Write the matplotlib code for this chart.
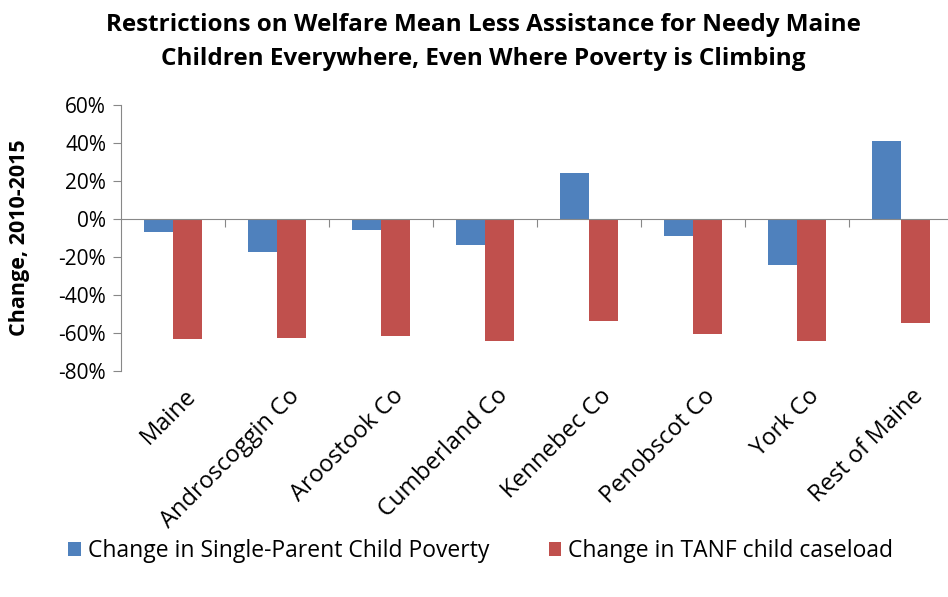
import numpy as np
import matplotlib
matplotlib.use("Agg")
import matplotlib.pyplot as plt
from matplotlib.ticker import FuncFormatter

places = ["Maine", "Androscoggin Co", "Aroostook Co", "Cumberland Co",
          "Kennebec Co", "Penobscot Co", "York Co", "Rest of Maine"]
poverty_change = [-7.0, -17.5, -6.0, -14.0, 24.0, -9.0, -24.5, 41.0]
tanf_change = [-63.5, -62.5, -61.5, -64.5, -54.0, -60.5, -64.5, -55.0]

blue = "#4F81BD"
red = "#C0504D"
plt.rcParams['font.family'] = ['Open Sans', 'DejaVu Sans']

fig = plt.figure(figsize=(9.48, 5.97), dpi=100)
ax = fig.add_axes([0.128, 0.379, 0.877, 0.445])

x = np.arange(len(places))
w = 0.28
ax.bar(x - w / 2, poverty_change, w, color=blue, label="Change in Single-Parent Child Poverty")
ax.bar(x + w / 2, tanf_change, w, color=red, label="Change in TANF child caseload")

ax.set_xlim(-0.5, len(places) - 0.5)
ax.set_ylim(-80, 60)
ax.set_yticks(np.arange(-80, 61, 20))
ax.yaxis.set_major_formatter(FuncFormatter(lambda v, p: f"{v:.0f}%"))
ax.tick_params(axis='y', labelsize=15, length=6, color="#888888", direction='out', pad=5)

for s in ['top', 'right']:
    ax.spines[s].set_visible(False)
ax.spines['left'].set_color("#888888")
ax.spines['bottom'].set_position(('data', 0))
ax.spines['bottom'].set_color("#888888")
ax.set_xticks(np.arange(0.5, len(places) - 0.5, 1))
ax.set_xticklabels([])
ax.tick_params(axis='x', length=6, color="#888888", direction='out')

# category names sit below the plot area, not on the zero line
trans = ax.get_xaxis_transform()
for i, name in enumerate(places):
    ax.text(i + 0.1, -0.05, name, transform=trans, rotation=45, ha='right', va='top',
            rotation_mode='anchor', fontsize=17)

ax.set_ylabel("Change, 2010-2015", fontsize=15.5, fontweight='bold')
ax.yaxis.set_label_coords(-0.11, 0.5)

fig.suptitle("Restrictions on Welfare Mean Less Assistance for Needy Maine\n"
             "Children Everywhere, Even Where Poverty is Climbing",
             x=0.51, y=0.978, fontsize=17.5, fontweight='bold', linespacing=1.55)

fig.legend(loc='center', bbox_to_anchor=(0.507, 0.077), ncol=2, frameon=False,
           fontsize=16.5, handlelength=0.55, handleheight=0.55, handletextpad=0.3,
           columnspacing=2.6)

fig.savefig("out.png", dpi=100)
